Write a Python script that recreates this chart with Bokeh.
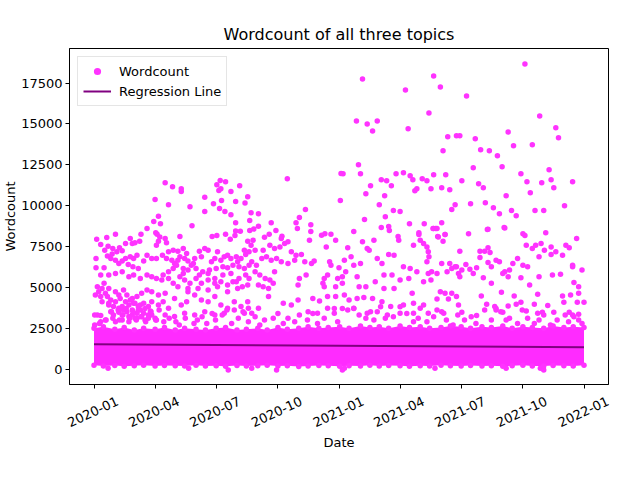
import math
import pandas as pd
from bokeh.plotting import figure
from bokeh.models import (ColumnDataSource, FixedTicker, Range1d, Legend, LegendItem,
                          DatetimeAxis)
from bokeh.embed import file_html
from bokeh.resources import INLINE

FONT = "DejaVu Sans"
start = pd.Timestamp("2020-01-01")

# (day since 2020-01-01, wordcount)
high_pts = [
    (288, 11650), (106, 11400), (117, 11160), (130, 11040), (130, 10860), (188, 11540),
    (196, 11460), (183, 11280), (186, 10930), (189, 11040), (217, 11220), (204, 10870),
    (229, 10550), (225, 10160), (211, 10250), (91, 10370), (111, 10060), (143, 9940),
    (165, 10510), (178, 10120), (190, 10310), (165, 9640), (187, 9820), (195, 9640),
    (204, 9450), (234, 9570), (245, 9510), (315, 9760), (306, 9270), (301, 8960),
    (367, 10310), (368, 11970), (96, 9350), (89, 9030), (99, 8900), (79, 8600),
    (70, 8250), (94, 8250), (32, 8250), (19, 8050), (4, 7950), (128, 8110),
    (146, 8780), (211, 8960), (232, 9090), (245, 8740), (238, 8570), (232, 8480),
    (211, 8450), (218, 8430), (264, 8960), (271, 8480), (261, 8250), (254, 8070),
    (280, 8130), (303, 8600), (323, 8840), (323, 8420), (344, 8290), (339, 8190),
    (353, 8250), (176, 8110), (183, 8170), (196, 8250), (210, 8170),
    (642, 18660), (400, 17750), (506, 17930), (516, 17260), (464, 17080), (555, 16710),
    (499, 15670), (664, 15490), (391, 15180), (407, 15000), (422, 15180), (415, 14570),
    (468, 14700), (688, 14760), (692, 14150), (527, 14210), (540, 14270), (545, 14270),
    (568, 14090), (520, 13360), (576, 13420), (589, 13360), (601, 13050), (617, 14510),
    (625, 13660), (653, 13720), (608, 12380), (565, 12320), (394, 12500), (371, 11950),
    (397, 11950), (678, 12200), (636, 11950), (713, 11460), (681, 11590), (667, 11400),
    (645, 11460), (685, 11100), (650, 10790), (614, 10610), (450, 11950), (461, 12010),
    (471, 11830), (475, 11590), (489, 11650), (496, 11530), (506, 11890), (524, 11890),
    (428, 11590), (436, 11530), (443, 11220), (412, 11220), (405, 10730), (433, 10610),
    (481, 11040), (478, 10920), (502, 11040), (518, 11100), (530, 10980), (548, 11530),
    (573, 11340), (580, 11100), (425, 10060), (538, 10060), (533, 9760), (561, 10120),
    (583, 10180), (595, 9880), (604, 9510), (622, 9700), (629, 9390), (657, 9700),
    (670, 9700), (701, 10000), (403, 9150), (434, 9330), (446, 9700), (456, 9640),
    (470, 8900), (492, 8900), (518, 8960), (428, 8660), (439, 8720), (440, 8480),
    (505, 8600), (509, 8600), (523, 8230), (512, 8110), (484, 8350), (484, 8230),
    (453, 8110), (387, 8420), (558, 8290), (586, 8540), (611, 8660), (639, 8290),
    (642, 8170), (673, 8350), (719, 7990),
]

mid_2020 = [
    (10, 7620), (21, 7520), (16, 7280), (28, 7380), (38, 7420), (47, 7680), (57, 7680),
    (61, 7740), (54, 7990), (68, 7830), (92, 8350), (96, 7830), (93, 7580), (106, 7990),
    (108, 7740), (98, 8090), (203, 7950), (229, 7830), (234, 7580),
    (3, 6770), (20, 6930), (27, 7050), (34, 7180), (42, 7240), (47, 6770), (54, 6870),
    (59, 6770), (64, 6970), (32, 6670), (37, 6470), (42, 6610), (51, 6410), (25, 6770),
    (58, 6260), (66, 6160), (74, 6610), (79, 6970), (86, 6770), (93, 6770), (102, 6970),
    (108, 6770), (111, 7180), (118, 7280), (125, 7220), (133, 7380), (128, 6870),
    (116, 6670), (120, 6470), (135, 6770), (140, 6610), (150, 6770), (157, 7220),
    (165, 7380), (170, 7280), (180, 6770), (189, 6670), (194, 6870), (204, 6770),
    (212, 6870), (219, 6770), (226, 7010), (231, 7180),
    (3, 6200), (15, 6200), (10, 5760), (22, 5760), (32, 5860), (42, 5960), (52, 5650),
    (59, 5760), (69, 5550), (79, 5760), (86, 5650), (93, 5550), (101, 5450), (111, 5550),
    (118, 6160), (123, 6360), (133, 6160), (140, 6060), (145, 6360), (152, 6160),
    (162, 5960), (172, 6060), (182, 6160), (192, 6260), (199, 6200), (207, 6360),
    (216, 6260), (224, 6160), (231, 6360),
    (128, 5650), (135, 5450), (143, 5250), (152, 5550), (160, 5250), (170, 5450),
    (180, 5550), (189, 5350), (199, 5150), (207, 5350), (216, 5550), (226, 5760),
    (5, 5040), (12, 4940), (22, 4940), (32, 4740), (37, 4540), (44, 4840), (2, 4540),
    (10, 4440), (17, 4640), (25, 4230), (32, 4130), (39, 4330), (49, 4540), (57, 4330),
    (64, 4440), (71, 4640), (79, 4840), (86, 4740), (96, 4540), (106, 4640),
    (52, 3930), (59, 4030), (66, 3830), (74, 4030), (81, 3830), (86, 4130), (22, 4030),
    (29, 3830), (37, 3730), (44, 3620), (49, 3520), (57, 3620), (64, 3420), (69, 3620),
    (5, 3320), (10, 3280), (42, 3320), (52, 3220), (61, 3120), (71, 3220), (81, 3320),
    (91, 3120),
    (96, 3930), (103, 4130), (111, 3730), (120, 4330), (130, 3930), (138, 4130),
    (150, 4540), (160, 4230), (170, 4130), (180, 4440), (189, 3930), (199, 3730),
    (209, 4130), (219, 3830), (229, 4130),
    (106, 3320), (120, 3220), (135, 3420), (150, 3320), (165, 3520), (180, 3320),
    (194, 3420), (209, 3620), (224, 3420),
    (125, 5040), (140, 4740), (155, 4940), (170, 4840), (184, 5040), (199, 4740),
    (214, 4940), (229, 5150),
    # dense cluster Feb-Mar 2020 and mid 2020
    (47, 4130), (54, 4230), (61, 4030), (69, 3930), (76, 3720), (84, 3560), (42, 3830),
    (37, 3480), (29, 3320), (25, 3520), (57, 3320), (64, 3110), (76, 3010), (86, 3320),
    (93, 3010), (17, 3010), (42, 3010), (52, 2910), (32, 2910), (10, 2910), (66, 3620),
    (74, 3420), (81, 3110), (22, 3930), (12, 4130), (20, 4440), (7, 4740), (15, 5250),
    (103, 5760), (111, 5960), (118, 5250), (133, 5860), (140, 4940), (157, 5760),
    (170, 5860), (180, 5250), (192, 5760), (204, 5860), (212, 5350), (221, 5040),
    (231, 5550), (125, 6670), (138, 7080), (148, 6470), (160, 6870), (175, 6570),
    (184, 7180), (199, 6970), (214, 6570), (224, 7280),
]

mid_late = [
    (237, 7890), (240, 7280), (279, 7990), (284, 7680), (289, 7790), (252, 7280),
    (262, 7580), (269, 7380), (277, 7480), (294, 7180), (301, 6970), (309, 7010),
    (321, 7890), (346, 7480), (360, 7890), (378, 7420), (400, 7790), (410, 7280),
    (417, 7890), (407, 7380), (454, 7890), (476, 7580), (486, 7890), (491, 7680),
    (496, 7480), (498, 7180),
    (235, 6570), (242, 6360), (250, 6770), (257, 6870), (264, 6670), (272, 6770),
    (279, 6570), (289, 6470), (299, 6670), (240, 5960), (247, 5760), (255, 5550),
    (262, 5450), (269, 5960), (245, 5150), (252, 5040), (260, 4940), (267, 5250),
    (314, 6570), (324, 6470), (328, 6610), (351, 6570), (353, 6360), (365, 6200),
    (373, 6670), (383, 6870), (387, 6360), (397, 6470), (422, 6770), (429, 6470),
    (439, 7010), (447, 6970), (461, 6260), (471, 6160), (481, 5960), (496, 6570),
    (498, 5860),
    (306, 5550), (316, 5760), (343, 5550), (348, 5760), (363, 5550), (370, 5650),
    (375, 5960), (392, 5650), (432, 5760), (444, 5760), (456, 5450), (469, 5550),
    (491, 5350),
    (304, 5150), (341, 5250), (343, 5040), (360, 5040), (370, 5250), (395, 5040),
    (405, 5040), (419, 5350), (432, 4940), (447, 4940), (474, 4640),
    (260, 4440), (282, 4030), (294, 3930), (304, 4230), (326, 4330), (336, 4170),
    (348, 4440), (360, 4440), (373, 4540), (380, 4230), (392, 4330), (402, 4380),
    (415, 4330), (429, 4130), (442, 3830), (461, 3930), (476, 4030), (491, 3930),
    (319, 3520), (333, 3420), (348, 3730), (358, 3420), (378, 3620), (387, 3730),
    (407, 3420), (422, 3520), (437, 3320), (456, 3420), (476, 3420), (486, 3730),
    (498, 3420), (230, 3730), (235, 3420), (245, 3730),
    (506, 8600), (511, 8600), (513, 8090), (520, 7830), (523, 8230), (587, 8560),
    (612, 8640),
    (499, 6870), (518, 6470), (530, 6470), (538, 6260), (545, 7220), (554, 6410),
    (560, 6120), (570, 6200), (575, 7220), (582, 7220), (587, 7420), (590, 7140),
    (575, 6830), (587, 6530), (592, 6260), (599, 6670), (604, 6570), (612, 5960),
    (619, 6060), (624, 6470), (631, 6770), (639, 6360), (646, 6260), (644, 7580),
    (653, 7380), (658, 7580), (666, 7680), (663, 6870), (671, 7280), (681, 7480),
    (681, 7010), (688, 7180), (698, 6970), (708, 7420), (703, 7580), (713, 6260),
    (727, 6060),
    (503, 5960), (511, 5860), (526, 5960), (533, 6160), (540, 6260), (543, 5860),
    (545, 5650), (548, 6060), (565, 5860), (580, 5590), (609, 5860), (617, 5650),
    (636, 5590), (663, 5650), (683, 5760), (695, 5800), (715, 5310), (722, 5040),
    (713, 6360),
    (502, 5450), (516, 4740), (523, 4640), (533, 4640), (540, 4440), (543, 3930),
    (511, 4290), (528, 4290), (577, 4480), (592, 5250), (607, 4700), (626, 4480),
    (636, 4090), (629, 3970), (649, 5150), (661, 4580), (656, 3970), (676, 3890),
    (698, 4480), (700, 4090), (710, 4540), (722, 4640), (730, 4090), (720, 4090),
    (511, 3620), (521, 3420), (548, 3480), (570, 3280), (585, 3970), (597, 3830),
    (599, 3620), (609, 3480), (617, 3870), (644, 3560), (661, 3420), (668, 3480),
    (685, 3480), (708, 3480), (713, 3320), (722, 3360),
]

fringe_pts = [
    (1, 3310), (1, 2700), (8, 2800), (18, 3010), (26, 3520), (28, 3110), (36, 3620),
    (38, 3010), (43, 3310), (48, 3720), (53, 3110), (58, 3520), (63, 3010), (70, 3210),
    (77, 2900), (85, 3520), (92, 3010), (97, 3620), (104, 2900), (112, 3110), (122, 2900),
    (127, 2700), (136, 3110), (149, 2800), (154, 3010), (161, 3210), (168, 2800),
    (176, 3410), (181, 3010), (191, 3310), (198, 3620), (205, 2800), (215, 3110),
    (222, 3520), (230, 2900), (240, 3210), (247, 2700), (254, 3010), (267, 3110),
    (274, 3410), (282, 2800), (289, 3110), (299, 2900), (306, 3310), (318, 3010),
    (326, 3410), (333, 2800), (343, 3110), (358, 3720), (363, 2900),
    (370, 3720), (387, 3720), (395, 3310), (405, 3110), (412, 3520), (417, 3010),
    (427, 3820), (434, 3110), (446, 3210), (456, 3820), (466, 3410), (476, 2900),
    (483, 3110), (496, 2900), (506, 3210), (518, 3520), (525, 3010), (535, 2700),
    (542, 3310), (552, 3010), (562, 3210), (569, 2800), (582, 3620), (592, 3010),
    (599, 3720), (606, 3520), (614, 3010), (619, 3110), (631, 2800), (638, 3620),
    (646, 3110), (656, 2800), (663, 3010), (670, 3310), (680, 2700), (690, 3010),
    (702, 3310), (707, 2900), (715, 3210), (722, 3010), (727, 2800),
]

low_pts = [
    (200, -40), (21, 60), (141, 60), (235, 60), (272, -40), (370, -40), (373, 60),
    (508, 60), (614, 60), (665, 60), (670, -40),
]

# dense band of daily counts: lower / upper edge, twice a month
band_low = [250, 200, 230, 180, 220, 250, 200, 230, 210, 190,
            240, 200, 220, 180, 230, 200, 210, 240, 190, 220,
            160, 200, 230, 210, 180, 220, 200, 240, 190, 230,
            210, 180, 220, 200, 240, 210, 190, 230, 200, 220,
            180, 210, 240, 200, 190, 230, 210, 200, 240]
band_high = [2500, 2600, 2450, 2550, 2400, 2500, 2450, 2550, 2400, 2500,
             2450, 2400, 2500, 2550, 2400, 2450, 2500, 2400, 2550, 2450,
             2500, 2600, 2500, 2550, 2600, 2500, 2650, 2550, 2600, 2500,
             2650, 2550, 2600, 2500, 2550, 2650, 2600, 2500, 2600, 2550,
             2650, 2500, 2600, 2550, 2500, 2650, 2550, 2600, 2550]
band_dates = list(pd.date_range("2020-01-01", "2021-12-15", freq="SMS")) + [pd.Timestamp("2021-12-31")]

# regression line end points
reg_days = [0, 730]
reg_words = [1524, 1341]

tick_months = ["2020-01", "2020-04", "2020-07", "2020-10", "2021-01",
               "2021-04", "2021-07", "2021-10", "2022-01"]
y_ticks = [0, 2500, 5000, 7500, 10000, 12500, 15000, 17500]

pts = high_pts + mid_2020 + mid_late + fringe_pts + low_pts
days = [d for d, _ in pts]
words = [w for _, w in pts]
pt_dates = list(start + pd.to_timedelta(days, unit="D")) + band_dates + band_dates
pt_words = words + band_high + band_low
src = ColumnDataSource(dict(x=pt_dates, y=pt_words))

p = figure(width=624, height=464, x_axis_type="datetime",
           output_backend="svg", toolbar_location=None,
           title="Wordcount of all three topics",
           x_range=Range1d(start - pd.Timedelta(days=36.5), start + pd.Timedelta(days=766.5)),
           y_range=Range1d(-934, 19610),
           min_border_left=64, min_border_right=16, min_border_top=48, min_border_bottom=80)

MAG = "#ff33ff"
p.varea(x=band_dates, y1=band_low, y2=band_high, fill_color="#ff2bff", fill_alpha=1)
r_pts = p.scatter("x", "y", source=src, marker="circle", size=5.5,
                  fill_color=MAG, line_color=None)
r_line = p.line(x=list(start + pd.to_timedelta(reg_days, unit="D")), y=reg_words,
                line_color="purple", line_width=2)

legend = Legend(items=[LegendItem(label="Wordcount", renderers=[r_pts]),
                       LegendItem(label="Regression Line", renderers=[r_line])],
                location="top_left")
legend.label_text_font = FONT
legend.label_text_font_size = "13px"
legend.label_text_color = "black"
legend.glyph_width = 28
legend.glyph_height = 18
legend.label_height = 18
legend.label_standoff = 8
legend.spacing = 2
legend.padding = 5
legend.margin = 8
legend.border_line_color = "#cccccc"
legend.background_fill_alpha = 0.8
p.add_layout(legend)

p.title.text_font = FONT
p.title.text_font_size = "16px"
p.title.text_font_style = "normal"
p.title.text_color = "black"
p.title.align = "center"

p.grid.visible = False
p.outline_line_color = "black"
p.outline_line_alpha = 1

# x axis: the first axis draws the tick marks, a second one the rotated labels,
# moved right so that each label is centred under its tick as in matplotlib
tick_ms = [pd.Timestamp(m + "-01").value // 10**6 for m in tick_months]
shift_ms = 35 * 86400000
p.xaxis.ticker = FixedTicker(ticks=tick_ms)
p.xaxis.major_label_overrides = {ms: "" for ms in tick_ms}
p.xaxis.major_label_standoff = 0

lab_axis = DatetimeAxis(ticker=FixedTicker(ticks=[ms + shift_ms for ms in tick_ms]),
                        major_label_overrides={ms + shift_ms: m for ms, m in zip(tick_ms, tick_months)},
                        major_label_orientation=math.radians(25),
                        axis_label="Date")
p.add_layout(lab_axis, "below")

p.yaxis.ticker = FixedTicker(ticks=y_ticks)
p.yaxis.axis_label = "Wordcount"

for ax in p.xaxis + p.yaxis:
    ax.axis_label_text_font = FONT
    ax.axis_label_text_font_size = "13px"
    ax.axis_label_text_font_style = "normal"
    ax.axis_label_text_color = "black"
    ax.major_label_text_font = FONT
    ax.major_label_text_font_size = "13px"
    ax.major_label_text_color = "black"
    ax.axis_line_color = "black"
    ax.major_tick_line_color = "black"
    ax.major_tick_out = 4
    ax.major_tick_in = 0
    ax.minor_tick_line_color = None
p.yaxis.major_label_standoff = 3
p.yaxis.axis_label_standoff = 0

lab_axis.axis_line_color = None
lab_axis.major_tick_line_color = None
lab_axis.major_tick_out = 0
lab_axis.major_label_standoff = 12
lab_axis.axis_label_standoff = 0

open("out.html", "w").write(file_html(p, INLINE))
